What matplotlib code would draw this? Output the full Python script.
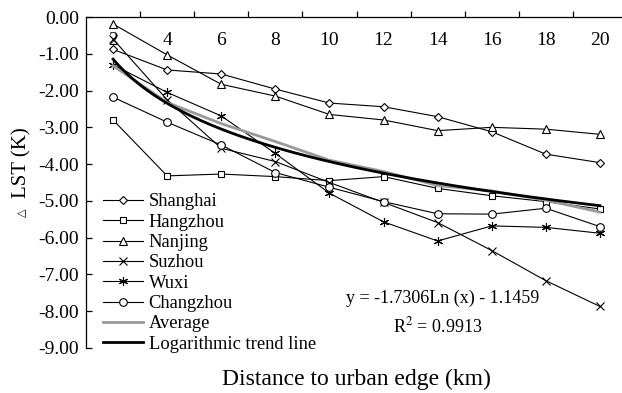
import numpy as np
import matplotlib
matplotlib.use("Agg")
import matplotlib.pyplot as plt
from matplotlib.ticker import FixedLocator, FormatStrFormatter

plt.rcParams['font.family'] = ['Liberation Serif', 'DejaVu Sans']
plt.rcParams['mathtext.fontset'] = 'stix'
plt.rcParams['axes.unicode_minus'] = False

# distance bands (km) and LST difference per city
distance = [2, 4, 6, 8, 10, 12, 14, 16, 18, 20]
shanghai = [-0.88, -1.44, -1.55, -1.96, -2.34, -2.44, -2.71, -3.12, -3.73, -3.96]
hangzhou = [-2.80, -4.32, -4.27, -4.34, -4.45, -4.34, -4.66, -4.86, -5.02, -5.22]
nanjing = [-0.19, -1.03, -1.83, -2.15, -2.65, -2.80, -3.09, -3.00, -3.05, -3.19]
suzhou = [-0.60, -2.25, -3.57, -3.93, -4.50, -5.04, -5.59, -6.35, -7.17, -7.87]
wuxi = [-1.30, -2.05, -2.69, -3.71, -4.79, -5.57, -6.09, -5.68, -5.72, -5.88]
changzhou = [-2.18, -2.86, -3.48, -4.23, -4.63, -5.02, -5.35, -5.36, -5.20, -5.70]

# logarithmic fit of the average: y = a*ln(x) + b, x = band number
fit_a, fit_b = -1.7306, -1.1459
fit_r2 = 0.9913

cities = [
    ("Shanghai", shanghai, "D", 4.5),
    ("Hangzhou", hangzhou, "s", 5),
    ("Nanjing", nanjing, "^", 6),
    ("Suzhou", suzhou, "x", 5.5),
    ("Wuxi", wuxi, (6, 2, 0), 6.5),
    ("Changzhou", changzhou, "o", 5.5),
]

fig = plt.figure(figsize=(6.22, 3.93), dpi=100)
ax = fig.add_axes([86 / 622, 1 - 348 / 393, 541 / 622, 331 / 393])

pos = np.arange(len(distance))
for name, vals, mk, ms in cities:
    ax.plot(pos, vals, color="black", lw=0.8, marker=mk, ms=ms,
            mfc="white", mec="black", mew=0.8, label=name)

average = np.mean([c[1] for c in cities], axis=0)
ax.plot(pos, average, color="#999999", lw=2.0, label="Average")

xs = np.linspace(1, len(distance), 200)
ax.plot(xs - 1, fit_a * np.log(xs) + fit_b, color="black", lw=2.0,
        label="Logarithmic trend line")

ax.set_xlim(-0.5, len(distance) - 0.5)
ax.set_ylim(-9, 0)

# x axis sits on y = 0 at the top, labels under it
ax.spines['bottom'].set_position(('data', 0))
ax.spines['top'].set_visible(False)
ax.spines['right'].set_visible(False)
for s in ('bottom', 'left'):
    ax.spines[s].set_linewidth(0.9)

ax.set_xticks(pos)
ax.set_xticklabels([str(d) for d in distance])
ax.xaxis.set_minor_locator(FixedLocator(np.arange(0.5, len(distance), 1.0)))
ax.tick_params(axis='x', which='major', length=0, pad=11, labelsize=14)
ax.tick_params(axis='x', which='minor', direction='in', length=4, width=0.9)

ax.set_yticks(np.arange(0, -10, -1))
ax.yaxis.set_major_formatter(FormatStrFormatter('%.2f'))
ax.tick_params(axis='y', direction='in', length=4, width=0.9, pad=5, labelsize=14)

leg = ax.legend(loc='upper left', bbox_to_anchor=(10 / 541, 1 - 169 / 331),
                frameon=False, fontsize=13.3, handlelength=2.15,
                handletextpad=0.3, labelspacing=0.18, borderaxespad=0)

ax.text(443 / 622, 1 - 298 / 393, "y = -1.7306Ln (x) - 1.1459",
        transform=fig.transFigure, ha='center', va='center', fontsize=13)
ax.text(438 / 622, 1 - 326 / 393, "R$^2$ = %.4f" % fit_r2,
        transform=fig.transFigure, ha='center', va='center', fontsize=13)

fig.text(356 / 622, 1 - 379 / 393, "Distance to urban edge (km)",
         ha='center', va='center', fontsize=17)
fig.text(22 / 622, 1 - 163 / 393, "LST (K)", rotation=90,
         ha='center', va='center', fontsize=15)
fig.text(22 / 622, 1 - 213 / 393, "△", rotation=90,
         ha='center', va='center', fontsize=8, family=['DejaVu Sans'])

fig.savefig("out.png", dpi=100)
